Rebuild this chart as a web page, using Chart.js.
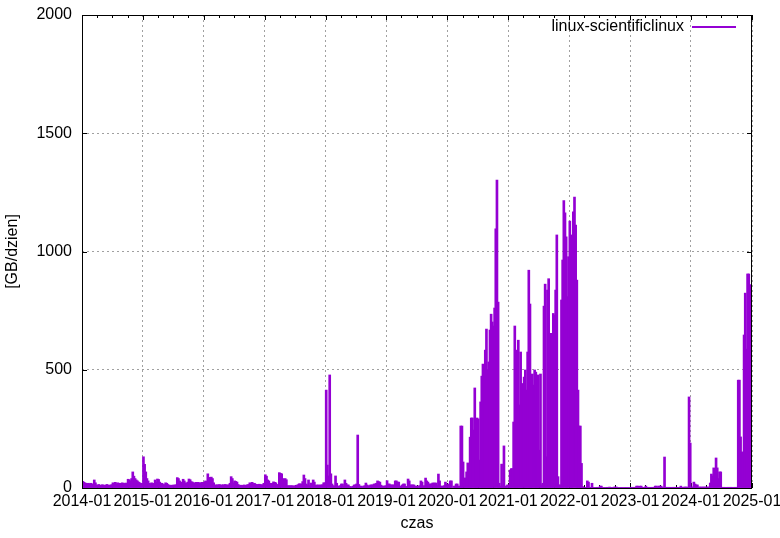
<!DOCTYPE html>
<html>
<head>
<meta charset="utf-8">
<script src="https://cdn.jsdelivr.net/npm/chart.js@4/dist/chart.umd.min.js"></script>
<style>
html,body{margin:0;padding:0;background:#fff;}
canvas{display:block;}
</style>
</head>
<body>
<canvas id="c" width="780" height="538"></canvas>
<script>
// ---- data (weekly values, GB/day) ----
const seriesLabel = 'linux-scientificlinux';
const xTitle = 'czas';
const yTitle = '[GB/dzien]';
const xTickLabels = ['2014-01','2015-01','2016-01','2017-01','2018-01','2019-01','2020-01','2021-01','2022-01','2023-01','2024-01','2025-01'];
const yTickValues = [0, 500, 1000, 1500, 2000];
const years = [2014,2015,2016,2017,2018,2019,2020,2021,2022,2023,2024];

const y2014 = [28,25,22,20,18,20,17,20,15,18,34,22,13,12,15,10,12,14,12,10,13,15,12,11,13,14,22,20,24,18,22,20,20,18,22,20,19,21,18,37,35,30,40,68,50,40,34,30,25,22,18,20];
const y2015 = [132,100,68,40,30,20,18,22,18,20,34,25,38,36,25,18,20,15,14,22,20,15,12,10,12,11,13,12,14,44,40,30,25,22,37,30,22,20,25,38,35,27,25,22,20,24,22,24,20,22,24,23];
const y2016 = [25,30,28,60,45,25,46,40,22,13,12,14,12,15,11,13,14,12,15,13,12,14,20,48,40,22,30,28,25,15,10,12,11,10,13,11,12,14,15,22,20,24,18,20,16,15,14,16,15,13,14,20];
const y2017 = [56,50,34,30,20,18,20,26,24,22,15,14,65,62,60,40,30,40,35,10,9,10,9,10,8,9,10,12,14,18,17,17,27,55,40,17,13,34,10,21,10,34,25,11,13,12,13,12,13,14,22,22];
const y2018 = [414,97,51,478,60,17,10,8,51,20,8,8,10,17,17,8,34,20,13,13,6,6,2,8,13,13,17,224,15,8,8,4,8,10,21,13,8,10,13,13,13,17,17,20,30,27,25,12,8,8,8,10];
const y2019 = [31,17,17,13,13,13,13,30,30,25,25,8,8,13,17,17,6,6,38,30,13,13,13,13,8,8,8,8,10,30,25,8,10,42,30,25,17,17,17,21,21,21,21,10,59,30,8,8,8,10,25,17];
const y2020 = [8,17,30,30,0,8,8,17,17,8,8,262,262,110,42,42,68,106,76,215,296,296,245,423,127,296,292,118,364,473,524,499,583,672,499,533,668,735,702,685,761,1096,1302,786,20,8,101,8,178,8,8,13];
const y2021 = [13,76,82,82,279,685,104,583,625,351,575,442,414,469,499,414,575,921,778,160,482,435,499,490,372,478,160,482,13,20,769,862,132,837,885,654,379,654,738,731,837,1070,48,13,13,795,964,1215,1163,1062,809,978];
const y2022 = [1129,795,1070,1168,1230,1112,879,414,262,262,104,6,3,2,3,30,25,3,2,20,3,2,2,3,2,3,8,8,2,2,2,2,3,2,4,2,2,2,4,4,4,2,2,2,2,2,2,2,2,2,2,2];
const y2023 = [3,3,3,3,3,8,8,4,8,8,3,3,3,8,3,3,3,3,3,3,3,8,8,3,8,8,8,4,3,131,3,3,3,3,3,3,3,3,3,3,3,3,3,8,3,3,4,4,4,3,385,190];
const y2024 = [4,4,25,17,13,13,4,4,4,4,4,4,4,4,4,4,21,59,51,85,63,127,85,40,68,68,3,3,3,3,3,3,3,3,3,3,3,3,3,3,456,456,216,152,152,647,824,587,905,905,860,0];
const weekly = [y2014,y2015,y2016,y2017,y2018,y2019,y2020,y2021,y2022,y2023,y2024];

// ---- build chart data ----
const T0 = Date.UTC(2014,0,1);
const DAY = 86400000;
const dayOf = (y, m) => (Date.UTC(y, m, 1) - T0) / DAY;
const points = [];
years.forEach((yr, k) => {
  weekly[k].forEach((v, w) => {
    points.push({x: dayOf(yr, 0) + 7 * w + 3.5, y: v});
  });
});
const labelMap = {};
const xTickValues = xTickLabels.map(l => {
  const d = dayOf(parseInt(l.slice(0,4),10), parseInt(l.slice(5,7),10) - 1);
  labelMap[d] = l;
  return d;
});
const minorTickValues = [];
years.forEach(yr => { [3,6,9].forEach(m => minorTickValues.push(dayOf(yr, m))); });

const COLOR = '#9400d3';
const FONT = 'Liberation Sans, Arial, sans-serif';
Chart.defaults.font.family = FONT;
Chart.defaults.font.size = 16;
Chart.defaults.color = '#000';

const framePlugin = {
  id: 'frame',
  beforeDatasetsDraw(chart) {
    const {ctx, chartArea: a, scales: {x, y}} = chart;
    ctx.save();
    ctx.strokeStyle = '#000';
    ctx.lineWidth = 1;
    ctx.beginPath();
    xTickValues.forEach(v => {
      const px = Math.round(x.getPixelForValue(v)) + 0.5;
      ctx.moveTo(px, a.bottom); ctx.lineTo(px, a.bottom - 5);
      ctx.moveTo(px, a.top); ctx.lineTo(px, a.top + 5);
    });
    minorTickValues.forEach(v => {
      const px = Math.round(x.getPixelForValue(v)) + 0.5;
      ctx.moveTo(px, a.bottom); ctx.lineTo(px, a.bottom - 3);
      ctx.moveTo(px, a.top); ctx.lineTo(px, a.top + 3);
    });
    yTickValues.forEach(v => {
      const py = Math.round(y.getPixelForValue(v)) + 0.5;
      ctx.moveTo(a.left, py); ctx.lineTo(a.left + 5, py);
      ctx.moveTo(a.right, py); ctx.lineTo(a.right - 5, py);
    });
    ctx.stroke();
    ctx.restore();
  },
  afterDatasetsDraw(chart) {
    const {ctx, chartArea: a} = chart;
    ctx.save();
    ctx.strokeStyle = '#000';
    ctx.lineWidth = 1;
    ctx.strokeRect(Math.round(a.left) + 0.5, Math.round(a.top) + 0.5,
                   Math.round(a.right) - Math.round(a.left) - 1, Math.round(a.bottom) - Math.round(a.top));
    // legend inside plot, top right
    ctx.font = '16px ' + FONT;
    ctx.fillStyle = '#000';
    ctx.textAlign = 'right';
    ctx.textBaseline = 'alphabetic';
    ctx.fillText(chart.data.datasets[0].label, a.right - 68, a.top + 16);
    ctx.fillStyle = COLOR;
    ctx.fillRect(a.right - 60, a.top + 11, 44, 2);
    ctx.restore();
  }
};

new Chart(document.getElementById('c'), {
  type: 'bar',
  data: {
    datasets: [{
      label: seriesLabel,
      data: points,
      backgroundColor: COLOR,
      borderWidth: 0,
      barThickness: 2
    }]
  },
  options: {
    responsive: false,
    animation: false,
    devicePixelRatio: 1,
    layout: {padding: {top: 15, right: 28, left: 0, bottom: 0}},
    plugins: {legend: {display: false}, tooltip: {enabled: false}},
    scales: {
      x: {
        type: 'linear',
        min: 0,
        max: dayOf(2025, 0),
        offset: false,
        grid: {display: true, offset: false, color: '#a0a0a0', lineWidth: 1, drawTicks: false},
        border: {display: false, dash: [2, 3]},
        ticks: {
          autoSkip: false, maxRotation: 0, minRotation: 0, padding: 4,
          color: '#000', font: {size: 16},
          callback: v => (labelMap[v] !== undefined ? labelMap[v] : '')
        },
        afterBuildTicks: s => { s.ticks = xTickValues.map(v => ({value: v})); },
        afterFit: s => { s.height = 50; s.paddingLeft = 0; s.paddingRight = 0; s.paddingTop = 0; s.paddingBottom = 0; },
        title: {display: true, text: xTitle, color: '#000', font: {size: 16}, padding: {top: 0, bottom: 5}}
      },
      y: {
        min: 0,
        max: 2000,
        grid: {display: true, color: '#a0a0a0', lineWidth: 1, drawTicks: false},
        border: {display: false, dash: [2, 3]},
        ticks: {padding: 10, color: '#000', font: {size: 16}, callback: v => String(v)},
        afterBuildTicks: s => { s.ticks = yTickValues.map(v => ({value: v})); },
        afterFit: s => { s.width = 82; s.paddingLeft = 0; s.paddingRight = 0; s.paddingTop = 0; s.paddingBottom = 0; },
        title: {display: true, text: yTitle, color: '#000', font: {size: 16}, padding: {top: 3, bottom: 0}}
      }
    }
  },
  plugins: [framePlugin]
});
</script>
</body>
</html>
